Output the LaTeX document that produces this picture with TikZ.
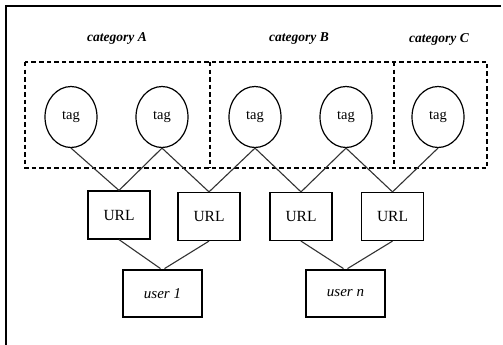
\documentclass[tikz,border=0pt]{standalone}
\usepackage{fontspec}
\setmainfont{Liberation Serif}
\usetikzlibrary{shapes.geometric}
\begin{document}
\begin{tikzpicture}[x=1pt,y=-1pt,
  tagnode/.style={draw,ellipse,line width=1.2pt,minimum width=52pt,minimum height=61pt,inner sep=0pt,font=\fontsize{14.5}{14.5}\selectfont},
  urlnode/.style={draw,rectangle,line width=1.2pt,minimum width=62pt,minimum height=48pt,inner sep=0pt,font=\fontsize{15.5}{15.5}\selectfont},
  usernode/.style={draw,rectangle,line width=2.8pt,minimum width=79pt,minimum height=47pt,inner sep=0pt,font=\fontsize{15}{15}\selectfont\itshape},
  catlabel/.style={font=\fontsize{13.5}{13.5}\selectfont\bfseries\itshape},
  catbox/.style={line width=1.2pt,dash pattern=on 4.5pt off 3pt},
  link/.style={line width=1.1pt,draw=black!80}]
\useasboundingbox (0,0) rectangle (503,345);
\fill[white] (0,0) rectangle (503,345);
% frame (left and top edges)
\draw[line width=1.4pt] (6,345) -- (6,6) -- (501,6);
% category boxes
\draw[catbox] (25,62) rectangle (487,168);
\draw[catbox] (210,62) -- (210,168);
\draw[catbox] (394,62) -- (394,168);
% labels
\node[catlabel] (la) at (117,39) {category A};
\node[catlabel] (lb) at (299,39) {category B};
\node[catlabel] (lc) at (439,39) {category C};
% tags
\node[tagnode] (t1) at (71,117) {tag};
\node[tagnode] (t2) at (162,117) {tag};
\node[tagnode] (t3) at (255,117) {tag};
\node[tagnode] (t4) at (346,117) {tag};
\node[tagnode] (t5) at (438,117) {tag};
% URLs
\node[urlnode] (u1) at (119,215) {URL};
\node[urlnode] (u2) at (209,216.5) {URL};
\node[urlnode] (u3) at (301,216.5) {URL};
\node[urlnode] (u4) at (392.5,216.5) {URL};
% users
\node[usernode] (s1) at (162.5,293.5) {user 1};
\node[usernode] (sn) at (345.5,293.5) {user n};
% links
\draw[link] (t1.south) -- (u1.north);
\draw[link] (t2.south) -- (u1.north);
\draw[link] (t2.south) -- (u2.north);
\draw[link] (t3.south) -- (u2.north);
\draw[link] (t3.south) -- (u3.north);
\draw[link] (t4.south) -- (u3.north);
\draw[link] (t4.south) -- (u4.north);
\draw[link] (t5.south) -- (u4.north);
\draw[link] (u1.south) -- ([xshift=-2pt]s1.north);
\draw[link] (u2.south) -- ([xshift=2pt]s1.north);
\draw[link] (u3.south) -- ([xshift=-2pt]sn.north);
\draw[link] (u4.south) -- ([xshift=2pt]sn.north);
\end{tikzpicture}
\end{document}
